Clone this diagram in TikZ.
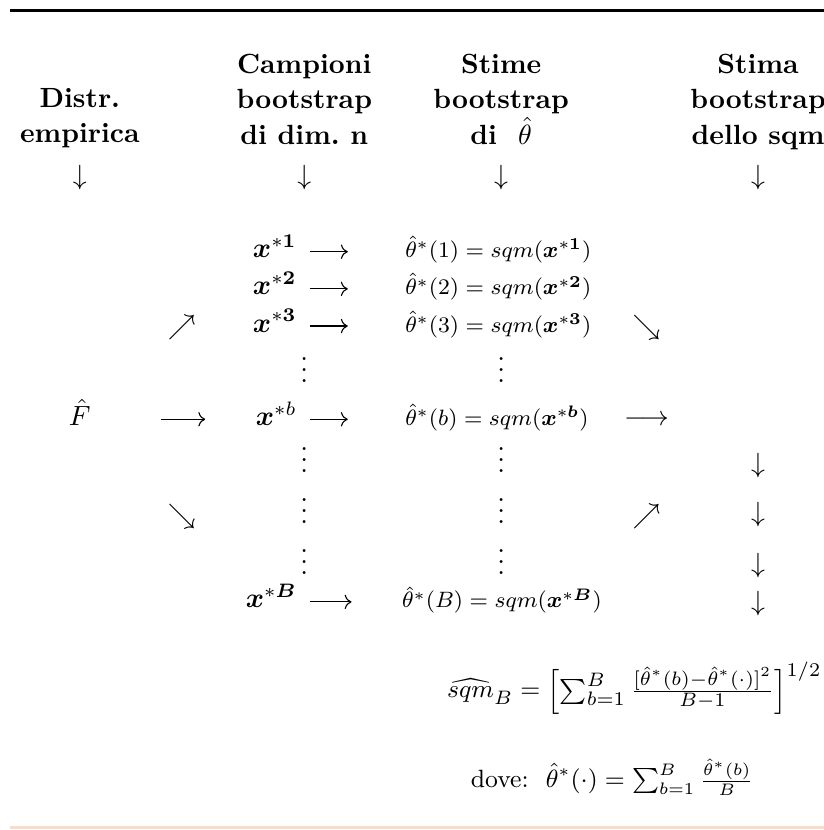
\documentclass[tikz,border=0pt]{standalone}
\usepackage{amsmath,bm}
\usetikzlibrary{positioning,arrows.meta,calc}
\usepackage{xcolor}
\definecolor{rulepeach}{RGB}{250,218,200}

\begin{document}
\begin{tikzpicture}[
    head/.style={font=\fontsize{10}{12.7}\selectfont\bfseries, align=center, anchor=north, inner sep=0pt},
    cell/.style={inner sep=0pt, anchor=base},
    est/.style={cell, anchor=base west, font=\fontsize{8.3}{10}\selectfont},
    sym/.style={inner sep=0pt},
    flow/.style={->, line width=0.4pt}
]
    \useasboundingbox (0,0) rectangle (10.42,-10.50);

    % rules above and below
    \draw[line width=0.9pt] (0.13,-0.13) -- (10.42,-0.13);
    \draw[rulepeach, line width=1pt] (0.13,-10.47) -- (10.42,-10.47);

    % column headers
    \node[head] (distr)    at (1.01,-1.11) {Distr.\\empirica};
    \node[head] (campioni) at (3.85,-0.68) {Campioni\\bootstrap\\di dim.\ n};
    \node[head] (stime)    at (6.34,-0.68) {Stime\\bootstrap\\di~ $\hat{\theta}$};
    \node[head] (stima)    at (9.59,-0.68) {Stima\\bootstrap\\dello sqm};

    \node[sym] (downa) at (1.01,-2.25) {$\downarrow$};
    \node[sym] (downb) at (3.85,-2.25) {$\downarrow$};
    \node[sym] (downc) at (6.34,-2.25) {$\downarrow$};
    \node[sym] (downd) at (9.59,-2.25) {$\downarrow$};

    % bootstrap samples and estimates
    \node[cell, anchor=base east] (xone)   at (3.76,-3.26) {$\bm{x}^{*\bm{1}}$};
    \node[cell, anchor=base east] (xtwo)   at (3.76,-3.73) {$\bm{x}^{*\bm{2}}$};
    \node[cell, anchor=base east] (xthree) at (3.76,-4.20) {$\bm{x}^{*\bm{3}}$};
    \node[cell, anchor=base east] (xb)     at (3.76,-5.38) {$\bm{x}^{*b}$};
    \node[cell, anchor=base east] (xB)     at (3.76,-7.69) {$\bm{x}^{*\bm{B}}$};

    \node[est] (tone)   at (5.12,-3.26) {$\hat{\theta}^*(1) = sqm(\bm{x}^{*\bm{1}})$};
    \node[est] (ttwo)   at (5.12,-3.73) {$\hat{\theta}^*(2) = sqm(\bm{x}^{*\bm{2}})$};
    \node[est] (tthree) at (5.12,-4.20) {$\hat{\theta}^*(3) = sqm(\bm{x}^{*\bm{3}})$};
    \node[est] (tb)     at (5.12,-5.38) {$\hat{\theta}^*(b) = sqm(\bm{x}^{*\bm{b}})$};
    \node[est] (tB)     at (5.08,-7.69) {$\hat{\theta}^*(B) = sqm(\bm{x}^{*\bm{B}})$};

    \node[cell] (fhat) at (1.01,-5.38) {$\hat{F}$};

    \draw[flow, shorten <=4.7pt, shorten >=20.5pt] (xone.mid east)   -- (tone.mid west);
    \draw[flow, shorten <=4.7pt, shorten >=20.5pt] (xtwo.mid east)   -- (ttwo.mid west);
    \draw[flow, shorten <=4.7pt, shorten >=20.5pt] (xthree.mid east) -- (tthree.mid west);
    \draw[flow, shorten <=4.7pt, shorten >=20.5pt] (xb.mid east)     -- (tb.mid west);
    \draw[flow, shorten <=4.7pt, shorten >=18pt]   (xB.mid east)     -- (tB.mid west);
    \draw[flow, shorten <=25pt, shorten >=18pt]    (fhat.mid east)   -- (xb.mid west);

    % vertical dots
    \node[cell] (vda) at (3.85,-4.84) {$\vdots$};
    \node[cell] (vdb) at (3.85,-5.98) {$\vdots$};
    \node[cell] (vdc) at (3.85,-6.62) {$\vdots$};
    \node[cell] (vdd) at (3.85,-7.27) {$\vdots$};
    \node[cell] (vte) at (6.34,-4.84) {$\vdots$};
    \node[cell] (vtf) at (6.34,-5.98) {$\vdots$};
    \node[cell] (vtg) at (6.34,-6.62) {$\vdots$};
    \node[cell] (vth) at (6.34,-7.27) {$\vdots$};

    % slanted arrows and the sqm column
    \node[sym] (upleft)    at (2.30,-4.14) {$\nearrow$};
    \node[sym] (downleft)  at (2.30,-6.53) {$\searrow$};
    \node[sym] (downright) at (8.18,-4.14) {$\searrow$};
    \node[sym] (upright)   at (8.18,-6.53) {$\nearrow$};
    \node[cell] (outb) at (8.18,-5.38) {$\longrightarrow$};

    \node[sym] (sqma) at (9.59,-5.89) {$\downarrow$};
    \node[sym] (sqmb) at (9.59,-6.51) {$\downarrow$};
    \node[sym] (sqmc) at (9.59,-7.15) {$\downarrow$};
    \node[sym] (sqmd) at (9.59,-7.63) {$\downarrow$};

    % estimate of the sqm
    \node[cell, anchor=base east, font=\fontsize{9.5}{11}\selectfont] (sqmhat) at (10.40,-8.83)
        {$\widehat{sqm}_B = \Bigl[\sum_{b=1}^{B} \frac{[\hat{\theta}^*(b)-\hat{\theta}^*(\cdot)]^2}{B-1}\Bigr]^{1/2}$};
    \node[cell, anchor=base west, font=\fontsize{9}{11}\selectfont] (dove) at (5.95,-9.96)
        {dove:\ \ $\hat{\theta}^*(\cdot) = \sum_{b=1}^{B}\frac{\hat{\theta}^*(b)}{B}$};
\end{tikzpicture}
\end{document}
